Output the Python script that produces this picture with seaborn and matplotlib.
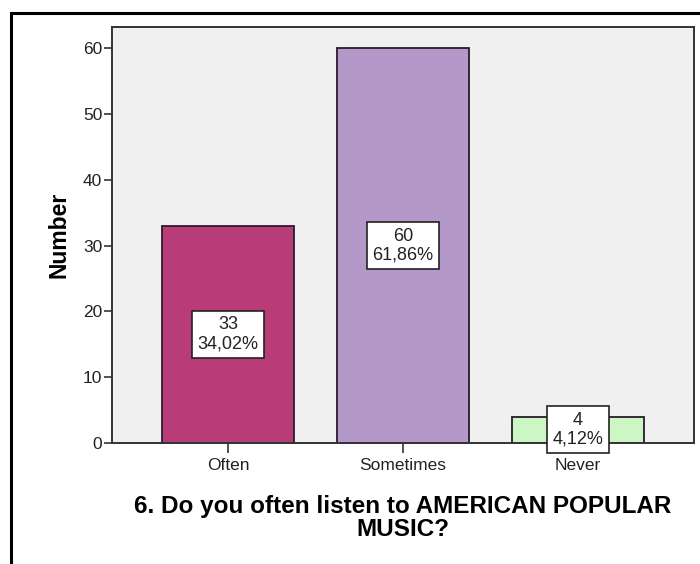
import matplotlib
matplotlib.use("Agg")
import matplotlib.pyplot as plt
import seaborn as sns
import pandas as pd
from matplotlib.patches import Rectangle

# Survey answers and counts
categories = ["Often", "Sometimes", "Never"]
counts = [33, 60, 4]
bar_colors = ["#b83c78", "#b498c9", "#ccf6c4"]
y_ticks = [0, 10, 20, 30, 40, 50, 60]

total = sum(counts)
percents = [c / total * 100 for c in counts]

df = pd.DataFrame({"answer": categories, "count": counts})

sns.set_theme(style="white")
plt.rcParams["font.family"] = ["Liberation Sans", "DejaVu Sans"]

fig = plt.figure(figsize=(7.0, 5.64), dpi=100)
ax = fig.add_axes([112 / 700, 1 - 443 / 564, (694 - 112) / 700, (443 - 27) / 564])

sns.barplot(data=df, x="answer", y="count", hue="answer", palette=bar_colors,
            legend=False, width=0.754, edgecolor="#2a1a2a", linewidth=1.3,
            saturation=1, ax=ax)

ax.set_facecolor("#f0f0f0")
ax.set_xlim(-0.663, 2.663)
ax.set_ylim(0, 63.2)
ax.set_yticks(y_ticks)
ax.tick_params(axis="both", direction="out", left=True, bottom=True,
               width=1.2, color="#333333", labelsize=12.5, labelcolor="#222222")
ax.tick_params(axis="y", length=6, pad=1)
ax.tick_params(axis="x", length=7, pad=4)
for s in ax.spines.values():
    s.set_visible(True)
    s.set_color("#333333")
    s.set_linewidth(1.4)

ax.set_ylabel("Number", fontsize=16.5, fontweight="bold", labelpad=9, color="black")
ax.set_xlabel("6. Do you often listen to AMERICAN POPULAR\nMUSIC?", fontsize=17.5,
              fontweight="bold", labelpad=16, linespacing=1.0, color="black")

# Count and percentage boxes at mid-height of each bar
for i, (c, p) in enumerate(zip(counts, percents)):
    txt = f"{c}\n{p:.2f}%".replace(".", ",")
    ax.text(i, c / 2, txt, ha="center", va="center", fontsize=13, color="#222222",
            linespacing=1.15,
            bbox=dict(boxstyle="square,pad=0.3", facecolor="white",
                      edgecolor="#222222", linewidth=1.2))

# Outer frame around the chart
fig.patches.append(Rectangle((11 / 700, -0.05), 1.1, 1 - 13 / 564 + 0.05,
                             transform=fig.transFigure, fill=False,
                             edgecolor="black", linewidth=2.2, zorder=10))

fig.savefig("out.png", dpi=100, facecolor="white")
